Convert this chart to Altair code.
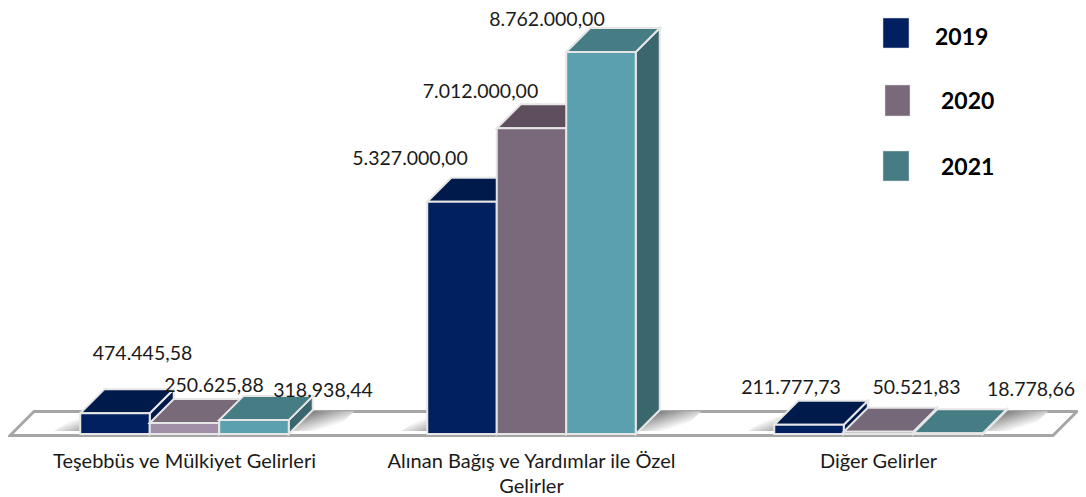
import altair as alt
import pandas as pd

# ---- data ----
categories = ["Teşebbüs ve Mülkiyet Gelirleri", "Alınan Bağış ve Yardımlar ile Özel\nGelirler", "Diğer Gelirler"]
years = ["2019", "2020", "2021"]
values_2019 = [474445.58, 5327000.00, 211777.73]
values_2020 = [250625.88, 7012000.00, 50521.83]
values_2021 = [318938.44, 8762000.00, 18778.66]

# ---- styling / layout ----
FONT = "Lato"
front_colors = {"2019": ["#012060", "#012060", "#012060"],
                "2020": ["#A08FA6", "#7A697B", "#7A697B"],
                "2021": ["#5AA0AF", "#5AA0AF", "#5AA0AF"]}
top_colors = {"2019": ["#001A4C", "#001A4C", "#001A4C"],
              "2020": ["#786A78", "#5F4F5E", "#756878"],
              "2021": ["#467C84", "#467C84", "#467C84"]}
side_colors = {"2019": ["#001A4C", "#001A4C", "#001A4C"],
               "2020": ["#5F4F5E", "#5F4F5E", "#5F4F5E"],
               "2021": ["#3A666E", "#3A666E", "#3A666E"]}
legend_colors = {"2019": "#012060", "2020": "#7A697B", "2021": "#467C84"}
EDGE = "#E6E6E6"

W, H = 1070, 489
PX_PER_GROUP = 347.0
X0_PX = 184.5 - 8           # first group's centre, in plot px
Y0_PX = 434 - 8             # zero line, in plot px
VAL_PER_PX = 8762000 / 382.0
BAR_W = 69.5 / PX_PER_GROUP
DX = 24 / PX_PER_GROUP
DY = 24 * VAL_PER_PX

xscale = alt.Scale(domain=[-X0_PX / PX_PER_GROUP, (W - X0_PX) / PX_PER_GROUP], range=[0, W], nice=False, zero=False)
yscale = alt.Scale(domain=[-(H - Y0_PX) * VAL_PER_PX, Y0_PX * VAL_PER_PX], range=[H, 0], nice=False, zero=False)
X = alt.X("x:Q", scale=xscale, axis=None)
X2 = alt.X2("x2:Q")
Y = alt.Y("y:Q", scale=yscale, axis=None)
Y2 = alt.Y2("y2:Q")


def para(x_left, x_right, y_low, dx, dy):
    """Skewed face: from (x_left..x_right, y_low) to the same shifted back by (dx, dy)."""
    return pd.DataFrame({"y": [y_low, y_low + dy], "x": [x_left, x_left + dx], "x2": [x_right, x_right + dx]})


def top_face(df, color, stroke=EDGE, sw=2):
    return alt.Chart(df).mark_area(orient="horizontal", fill=color, stroke=stroke, strokeWidth=sw, interpolate="linear").encode(
        y=alt.Y("y:Q", scale=yscale, axis=None, sort=None), x=X, x2=X2)


def side_face(x_right, value, color):
    df = pd.DataFrame({"x": [x_right, x_right + DX], "y": [0, DY], "y2": [value, value + DY]})
    return alt.Chart(df).mark_area(fill=color, stroke=EDGE, strokeWidth=2).encode(x=X, y=Y, y2=Y2)


def shadow(x_start, px_width, to_right):
    w = px_width / PX_PER_GROUP
    if to_right:
        df = para(x_start, x_start + w, 0.12 * DY, 0.88 * DX, 0.83 * DY)
        stops = [alt.GradientStop(color="#777777", offset=0), alt.GradientStop(color="#FFFFFF", offset=1)]
        grad = alt.Gradient(gradient="linear", stops=stops, x1=0.3, y1=0, x2=0.85, y2=0.55)
    else:
        df = para(x_start - w, x_start, 0.12 * DY, 0.88 * DX, 0.6 * DY)
        stops = [alt.GradientStop(color="#A0A0A0", offset=0), alt.GradientStop(color="#FFFFFF", offset=1)]
        grad = alt.Gradient(gradient="linear", stops=stops, x1=0.62, y1=1, x2=0.1, y2=0.6)
    return alt.Chart(df).mark_area(orient="horizontal", color=grad).encode(
        y=alt.Y("y:Q", scale=yscale, axis=None), x=X, x2=X2)


layers = []

# floor
floor_df = para(-174.5 / PX_PER_GROUP, 868.5 / PX_PER_GROUP, -1.5 * VAL_PER_PX, DX, DY)
layers.append(top_face(floor_df, "#FFFFFF", "#A6A6A6", 3))

series = {"2019": values_2019, "2020": values_2020, "2021": values_2021}

# soft shadows on the floor
for g in range(3):
    left = g - 1.5 * BAR_W
    right = g + 1.5 * BAR_W
    layers.append(shadow(left, 26, False))
    layers.append(shadow(right + 0.1 * DX, 42, True))

# bars, painted back-to-front (left to right)
for g in range(3):
    for j, yr in enumerate(years):
        v = series[yr][g]
        xl = g + (j - 1.5) * BAR_W
        xr = xl + BAR_W
        layers.append(side_face(xr, v, side_colors[yr][g]))
        layers.append(top_face(para(xl, xr, v, DX, DY), top_colors[yr][g]))
        front = pd.DataFrame({"x": [xl], "x2": [xr], "y": [0], "y2": [v]})
        layers.append(alt.Chart(front).mark_rect(fill=front_colors[yr][g], stroke=EDGE, strokeWidth=2).encode(x=X, x2=X2, y=Y, y2=Y2))

# value labels
label_dx = [[27.5, 29.5, 69], [-52, -51, -54], [-18, 38, 83]]
label_dy = [[-59, -37, -29], [-43, -36, -32], [-37, -44, -43]]


def tr(v):
    return f"{v:,.2f}".replace(",", "#").replace(".", ",").replace("#", ".")


for g in range(3):
    for j, yr in enumerate(years):
        v = series[yr][g]
        df = pd.DataFrame({"x": [g + (j - 1) * BAR_W], "y": [v], "t": [tr(v)]})
        layers.append(alt.Chart(df).mark_text(font=FONT, fontSize=19.5, color="#1A1A1A", align="center", baseline="middle",
                                              dx=label_dx[g][j], dy=label_dy[g][j]).encode(x=X, y=Y, text="t:N"))

# category labels
for g in range(3):
    df = pd.DataFrame({"x": [g], "t": [categories[g]]})
    layers.append(alt.Chart(df).mark_text(font=FONT, fontSize=20, color="#1A1A1A", align="center", baseline="top",
                                          lineBreak="\n", lineHeight=25).encode(
        x=X, y=alt.value(444), text="t:N"))

# legend
legend_box = {"2019": (875, 901, 10, 40), "2020": (877, 902, 77, 108), "2021": (875, 901, 143, 173)}
legend_text = {"2019": (927, 30), "2020": (933, 94), "2021": (933, 160)}
for yr in years:
    x1, x2, y1, y2 = legend_box[yr]
    df = pd.DataFrame({"year": [yr]})
    layers.append(alt.Chart(df).mark_rect(fill=legend_colors[yr], stroke="#DDDDDD", strokeWidth=0.5).encode(
        x=alt.value(x1), x2=alt.value(x2), y=alt.value(y1), y2=alt.value(y2)))
    tx, ty = legend_text[yr]
    layers.append(alt.Chart(df).mark_text(font=FONT, fontSize=23, fontWeight="bold", color="#000000", align="left", baseline="middle").encode(
        x=alt.value(tx), y=alt.value(ty), text="year:N"))

chart = alt.layer(*layers).properties(width=W, height=H, padding=0, autosize=alt.AutoSizeParams(type="none")).configure_view(stroke=None)
chart.save("out.html", embed_options={"renderer": "svg", "actions": False})
